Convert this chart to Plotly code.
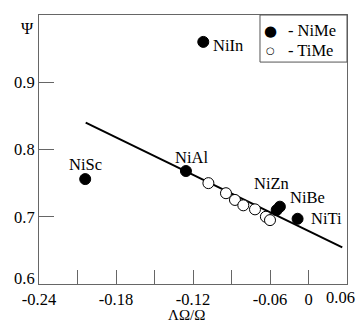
import plotly.graph_objects as go

# Data (x in units of ΛΩ/Ω, y = Ψ)
nime_names = ["NiIn", "NiSc", "NiAl", "NiZn", "NiBe", "NiTi"]
nime_x = [-0.112, -0.204, -0.1255, -0.0548, -0.0523, -0.0385]
nime_y = [0.960, 0.756, 0.768, 0.710, 0.715, 0.697]

time_x = [-0.108, -0.0943, -0.0873, -0.0808, -0.0717, -0.0632, -0.060]
time_y = [0.750, 0.735, 0.725, 0.717, 0.711, 0.700, 0.695]

fit_x = [-0.2036, -0.0037]
fit_y = [0.840, 0.6545]

x_tickvals = [-0.24, -0.21, -0.18, -0.15, -0.12, -0.09, -0.06, -0.03, 0.0]
x_ticktext = ["-0.24", "", "-0.18", "", "-0.12", "", "-0.06", "0", "0.06"]
y_tickvals = [0.6, 0.7, 0.8, 0.9]
y_ticktext = ["0.6", "0.7", "0.8", "0.9"]

legend_labels = ["- NiMe", "- TiMe"]

# label placement offsets (px): xanchor, xshift, yshift
label_style = {
    "NiIn": ("left", 8, -4),
    "NiSc": ("center", 0, 15),
    "NiAl": ("center", 6, 14),
    "NiZn": ("center", -5, 27),
    "NiBe": ("center", 28, 9),
    "NiTi": ("left", 11, 0),
}

FONT = "Liberation Serif"
FS = 16.5
AX = "#666666"

fig = go.Figure()
fig.add_trace(go.Scatter(x=fit_x, y=fit_y, mode="lines",
                         line=dict(color="black", width=2), showlegend=False,
                         hoverinfo="skip"))
fig.add_trace(go.Scatter(x=nime_x, y=nime_y, mode="markers", name=legend_labels[0],
                         showlegend=False,
                         marker=dict(symbol="circle", size=11, color="black",
                                     line=dict(color="black", width=1))))
fig.add_trace(go.Scatter(x=time_x, y=time_y, mode="markers", name=legend_labels[1],
                         showlegend=False,
                         marker=dict(symbol="circle", size=11, color="white",
                                     line=dict(color="black", width=1))))

for n, x, y in zip(nime_names, nime_x, nime_y):
    xa, xs, ys = label_style[n]
    fig.add_annotation(x=x, y=y, text=n, showarrow=False, xanchor=xa,
                       yanchor="middle", xshift=xs, yshift=ys,
                       font=dict(family=FONT, size=FS, color="black"))

# tick labels that plotly would hide or crowd at the corners
edge_x_idx = len(x_tickvals) - 1
fig.add_annotation(x=x_tickvals[edge_x_idx], xref="x", yref="paper", y=0,
                   text=x_ticktext[edge_x_idx], showarrow=False,
                   xanchor="right", yanchor="middle", xshift=10, yshift=-13,
                   font=dict(family=FONT, size=FS, color="black"))
fig.add_annotation(xref="paper", x=0, yref="y", y=y_tickvals[0],
                   text=y_ticktext[0], showarrow=False,
                   xanchor="right", yanchor="middle", xshift=-2, yshift=6,
                   font=dict(family=FONT, size=FS, color="black"))
x_ticktext_axis = x_ticktext[:edge_x_idx] + [""]
y_ticktext_axis = [""] + y_ticktext[1:]

# manual legend box (top-right)
fig.add_shape(type="rect", xref="paper", yref="paper",
              x0=0.7175, x1=1.0, y0=0.825, y1=1.0,
              line=dict(color="#555555", width=1), fillcolor="white", layer="above")
for sym, lab, yp, sz in [("●", legend_labels[0], 0.9416, 15), ("○", legend_labels[1], 0.867, 10)]:
    fig.add_annotation(xref="paper", yref="paper", x=0.75, y=yp, text=sym,
                       showarrow=False, xanchor="center", yanchor="middle",
                       font=dict(family="DejaVu Sans", size=sz, color="black"))
    fig.add_annotation(xref="paper", yref="paper", x=0.803, y=yp, text=lab,
                       showarrow=False, xanchor="left", yanchor="middle",
                       font=dict(family=FONT, size=FS, color="black"))

fig.add_annotation(xref="paper", yref="paper", x=0, y=1, text="Ψ",
                   showarrow=False, xanchor="right", yanchor="top",
                   xshift=-3, yshift=-2,
                   font=dict(family=FONT, size=FS, color="black"))
fig.add_annotation(xref="paper", yref="paper", x=0.48, y=0, text="ΛΩ/Ω",
                   showarrow=False, xanchor="center", yanchor="middle",
                   yshift=-31,
                   font=dict(family=FONT, size=15, color="black"))

fig.update_layout(
    width=358, height=324,
    margin=dict(l=39, r=11, t=15, b=40),
    paper_bgcolor="white", plot_bgcolor="white",
    font=dict(family=FONT, size=FS, color="black"),
    showlegend=False,
    xaxis=dict(range=[-0.24, 0.0], tickvals=x_tickvals, ticktext=x_ticktext_axis,
               ticks="inside", ticklen=14, tickcolor=AX, tickwidth=1,
               showline=True, linecolor=AX, linewidth=1, mirror=True,
               showgrid=False, zeroline=False,
               tickfont=dict(family=FONT, size=FS, color="black")),
    yaxis=dict(range=[0.6, 1.0], tickvals=y_tickvals, ticktext=y_ticktext_axis,
               ticks="inside", ticklen=15, tickcolor=AX, tickwidth=1,
               showline=True, linecolor=AX, linewidth=1, mirror=True,
               showgrid=False, zeroline=False,
               tickfont=dict(family=FONT, size=FS, color="black")),
)

fig.write_html("out.html")
